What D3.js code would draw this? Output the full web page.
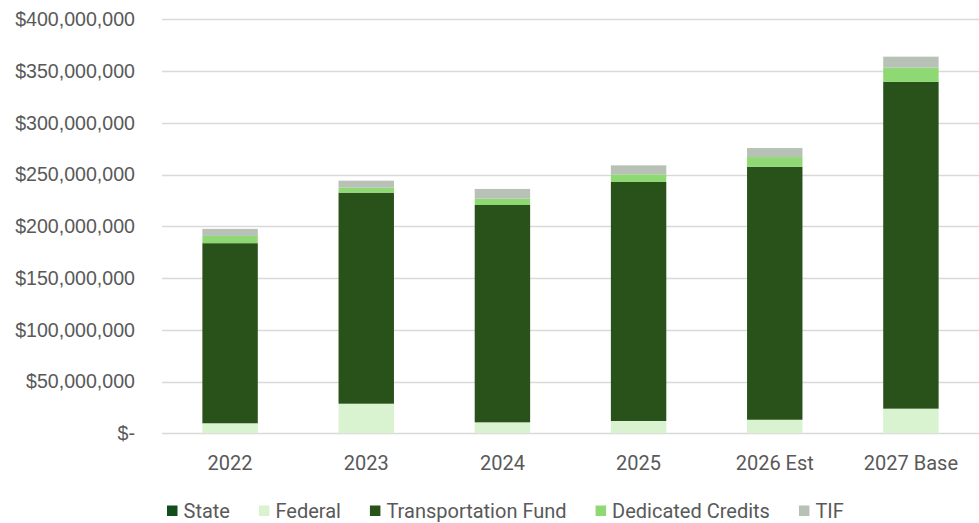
<!DOCTYPE html>
<html>
<head>
<meta charset="utf-8">
<script src="https://cdn.jsdelivr.net/npm/d3@7"></script>
<style>
  body { margin: 0; background: #fff; }
  svg { display: block; }
</style>
</head>
<body>
<div id="chart"></div>
<script>
// funding by source, stacked per year
var years = ['2022', '2023', '2024', '2025', '2026 Est', '2027 Base'];
var sources = ['State', 'Federal', 'Transportation Fund', 'Dedicated Credits', 'TIF'];

// values in dollars
var state     = [0, 0, 0, 0, 0, 0];
var federal   = [9700000, 28600000, 10600000, 11900000, 13100000, 23800000];
var transFund = [174000000, 203900000, 210000000, 230900000, 244400000, 315700000];
var dedicated = [7000000, 4800000, 6100000, 7400000, 9400000, 13800000];
var tif       = [6800000, 6800000, 9400000, 8700000, 8700000, 10600000];

var yTicks = [0, 50000000, 100000000, 150000000, 200000000, 250000000, 300000000, 350000000, 400000000];

var w = 979;
var h = 523;
var margin = {left: 162, right: 0, top: 19.3, bottom: 89.7};

var svg = d3.select('#chart')
    .append('svg')
    .attr('width', w)
    .attr('height', h);

// build rows for d3.stack
var rows = years.map((y, i) => ({
    year: y,
    'State': state[i],
    'Federal': federal[i],
    'Transportation Fund': transFund[i],
    'Dedicated Credits': dedicated[i],
    'TIF': tif[i]
}));

var color = d3.scaleOrdinal()
    .domain(sources)
    .range(['#124e1b', '#d9f2d0', '#29521a', '#8ed973', '#b7c1b6']);

var xScale = d3.scaleBand()
    .domain(years)
    .range([margin.left, w - margin.right])
    .paddingInner(0.593)
    .paddingOuter(0.2965);

var yScale = d3.scaleLinear()
    .domain([0, 400000000])
    .range([h - margin.bottom, margin.top]);

var fmt = d3.format(',');

// gridlines
svg.append('g')
    .attr('class', 'grid')
    .selectAll('line')
    .data(yTicks)
    .enter()
    .append('line')
    .attr('x1', margin.left)
    .attr('x2', w - margin.right)
    .attr('y1', d => Math.round(yScale(d)) + 0.5)
    .attr('y2', d => Math.round(yScale(d)) + 0.5)
    .attr('stroke', '#d9d9d9')
    .attr('stroke-width', 1.3);

// y axis labels
var yAxis = d3.axisLeft(yScale)
    .tickValues(yTicks)
    .tickSize(0)
    .tickPadding(0)
    .tickFormat(d => d === 0 ? '$-' : '$' + fmt(d));

svg.append('g')
    .attr('transform', 'translate(135, 0)')
    .call(yAxis)
    .call(g => g.select('.domain').remove())
    .selectAll('text')
    .attr('fill', '#595959')
    .attr('font-family', '"Liberation Sans", Arial, sans-serif')
    .attr('font-size', '19.6px');

// stacked bars
var stack = d3.stack().keys(sources);
var series = stack(rows);

svg.append('g')
    .selectAll('g')
    .data(series)
    .enter()
    .append('g')
    .attr('fill', d => color(d.key))
    .selectAll('rect')
    .data(d => d)
    .enter()
    .append('rect')
    .attr('x', d => xScale(d.data.year))
    .attr('width', xScale.bandwidth())
    .attr('y', d => yScale(d[1]))
    .attr('height', d => yScale(d[0]) - yScale(d[1]));

// x axis labels
var xAxis = d3.axisBottom(xScale)
    .tickSize(0)
    .tickPadding(0);

svg.append('g')
    .attr('transform', 'translate(0, 470)')
    .call(xAxis)
    .call(g => g.select('.domain').remove())
    .selectAll('text')
    .attr('dy', 0)
    .attr('fill', '#595959')
    .attr('font-family', 'Roboto, sans-serif')
    .attr('font-size', '20px');

// legend
var legend = svg.append('g')
    .attr('id', 'legend');
var lx = 167;
sources.forEach(s => {
    legend.append('rect')
        .attr('x', lx)
        .attr('y', 505.5)
        .attr('width', 10.5)
        .attr('height', 10.5)
        .attr('fill', color(s));
    var t = legend.append('text')
        .attr('x', lx + 16.5)
        .attr('y', 518)
        .attr('fill', '#595959')
        .attr('font-family', 'Roboto, sans-serif')
        .attr('font-size', '20px')
        .text(s);
    lx += 16.5 + t.node().getComputedTextLength() + 29;
});
</script>
</body>
</html>
